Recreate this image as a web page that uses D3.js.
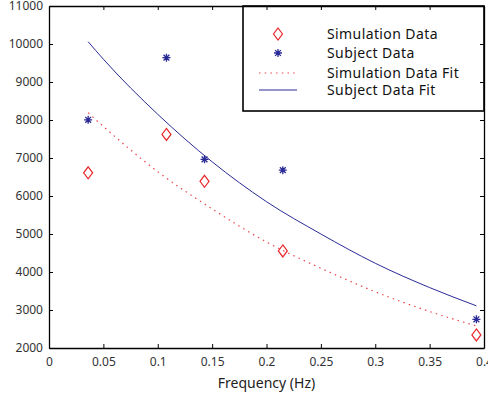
<!DOCTYPE html>
<html>
<head>
<meta charset="utf-8">
<script src="https://cdn.jsdelivr.net/npm/d3@7"></script>
<style>
  body { margin: 0; background: #fff; }
  svg text { font-family: "Noto Sans", "Open Sans", sans-serif; fill: #333; }
  svg text.leg { font-size: 14px; letter-spacing: 0.4px; fill: #111; }
</style>
</head>
<body>
<div id="chart"></div>
<script>
// measured data (frequency in Hz)
const freqs = [0.036, 0.108, 0.143, 0.215, 0.393];
const simData = [6610, 7620, 6385, 4555, 2345];
const subjData = [8005, 9640, 6965, 6680, 2755];

// fit curves
const fitFreqs = [0.036, 0.05, 0.1, 0.15, 0.2, 0.25, 0.3, 0.35, 0.393];
const simFit = [8190, 7830, 6640, 5660, 4790, 4100, 3480, 2960, 2580];
const subjFit = [10060, 9600, 8150, 6900, 5850, 5000, 4230, 3590, 3110];

const xTicks = [0, 0.05, 0.1, 0.15, 0.2, 0.25, 0.3, 0.35, 0.4];
const yTicks = [2000, 3000, 4000, 5000, 6000, 7000, 8000, 9000, 10000, 11000];

const legendLabels = ["Simulation Data", "Subject Data", "Simulation Data Fit", "Subject Data Fit"];

const W = 488, H = 397;
const margin = {top: 6, right: 4, bottom: 49, left: 49};
const iw = W - margin.left - margin.right;
const ih = H - margin.top - margin.bottom;

const red = "#e8262b", blue = "#2a2a96";

const svg = d3.select("#chart").append("svg")
    .attr("width", W).attr("height", H);
const g = svg.append("g").attr("transform", `translate(${margin.left},${margin.top})`);

const x = d3.scaleLinear().domain([0, 0.4]).range([0, iw]);
const y = d3.scaleLinear().domain([2000, 11000]).range([ih, 0]);

const fitLine = d3.line().x(d => x(d[0])).y(d => y(d[1])).curve(d3.curveMonotoneX);

// fits
g.append("path")
    .datum(fitFreqs.map((f, i) => [f, simFit[i]]))
    .attr("d", fitLine)
    .attr("fill", "none").attr("stroke", red).attr("stroke-width", 1.2)
    .attr("stroke-dasharray", "1.5,4.2").attr("opacity", 0.85);

g.append("path")
    .datum(fitFreqs.map((f, i) => [f, subjFit[i]]))
    .attr("d", fitLine)
    .attr("fill", "none").attr("stroke", blue).attr("stroke-width", 1);

function diamond(sel) {
  sel.append("path")
    .attr("d", "M0,-6L4.5,0L0,6L-4.5,0Z")
    .attr("fill", "none").attr("stroke", red).attr("stroke-width", 1.2);
}
function star(sel) {
  sel.append("path")
    .attr("d", "M-4,0H4M0,-4V4M-2.9,-2.9L2.9,2.9M-2.9,2.9L2.9,-2.9")
    .attr("fill", "none").attr("stroke", blue).attr("stroke-width", 1.3);
}

g.selectAll(".sim").data(freqs).join("g")
    .attr("transform", (d, i) => `translate(${x(d)},${y(simData[i])})`)
    .call(diamond);
g.selectAll(".subj").data(freqs).join("g")
    .attr("transform", (d, i) => `translate(${x(d)},${y(subjData[i])})`)
    .call(star);

// legend
const lx = 194, ly = 0, lw = iw - lx, lh = 105;
const leg = g.append("g");
leg.append("rect").attr("x", lx).attr("y", ly).attr("width", lw).attr("height", lh)
    .attr("fill", "#fff").attr("stroke", "#000").attr("stroke-width", 1.6);
const rowY = [28, 47, 67, 84];
legendLabels.forEach((lab, i) => {
  const row = leg.append("g").attr("transform", `translate(${lx + 35},${rowY[i]})`);
  if (i === 0) row.call(diamond);
  if (i === 1) row.call(star);
  if (i === 2) row.append("line").attr("x1", -19).attr("x2", 19)
      .attr("stroke", red).attr("stroke-width", 1.2).attr("stroke-dasharray", "1.5,4.2").attr("opacity", 0.85);
  if (i === 3) row.append("line").attr("x1", -19).attr("x2", 19)
      .attr("stroke", blue).attr("stroke-width", 1);
  leg.append("text").attr("class", "leg").attr("x", lx + 84).attr("y", rowY[i]).attr("dy", "0.35em")
      .text(lab);
});

// axes (box with inward ticks)
g.append("g").attr("transform", `translate(0,${ih})`)
    .call(d3.axisBottom(x).tickValues(xTicks).tickSizeInner(-4).tickSizeOuter(0).tickPadding(9)
      .tickFormat(d => d3.format("~g")(d)));
g.append("g")
    .call(d3.axisLeft(y).tickValues(yTicks).tickSizeInner(-4).tickSizeOuter(0).tickPadding(6)
      .tickFormat(d3.format("d")));
g.append("g")
    .call(d3.axisTop(x).tickValues(xTicks).tickSizeInner(-4).tickSizeOuter(0).tickFormat(""));
g.append("g").attr("transform", `translate(${iw},0)`)
    .call(d3.axisRight(y).tickValues(yTicks).tickSizeInner(-4).tickSizeOuter(0).tickFormat(""));
g.selectAll(".domain").attr("stroke", "#000").attr("stroke-width", 1.3);
g.selectAll(".tick line").attr("stroke", "#000");
g.selectAll(".tick text").attr("font-size", 12).style("fill", "#333")
    .attr("font-family", "'Noto Sans', sans-serif");

svg.append("text").attr("x", margin.left + iw / 2).attr("y", 388)
    .attr("text-anchor", "middle").attr("font-size", 14).style("fill", "#222")
    .text("Frequency (Hz)");
</script>
</body>
</html>
